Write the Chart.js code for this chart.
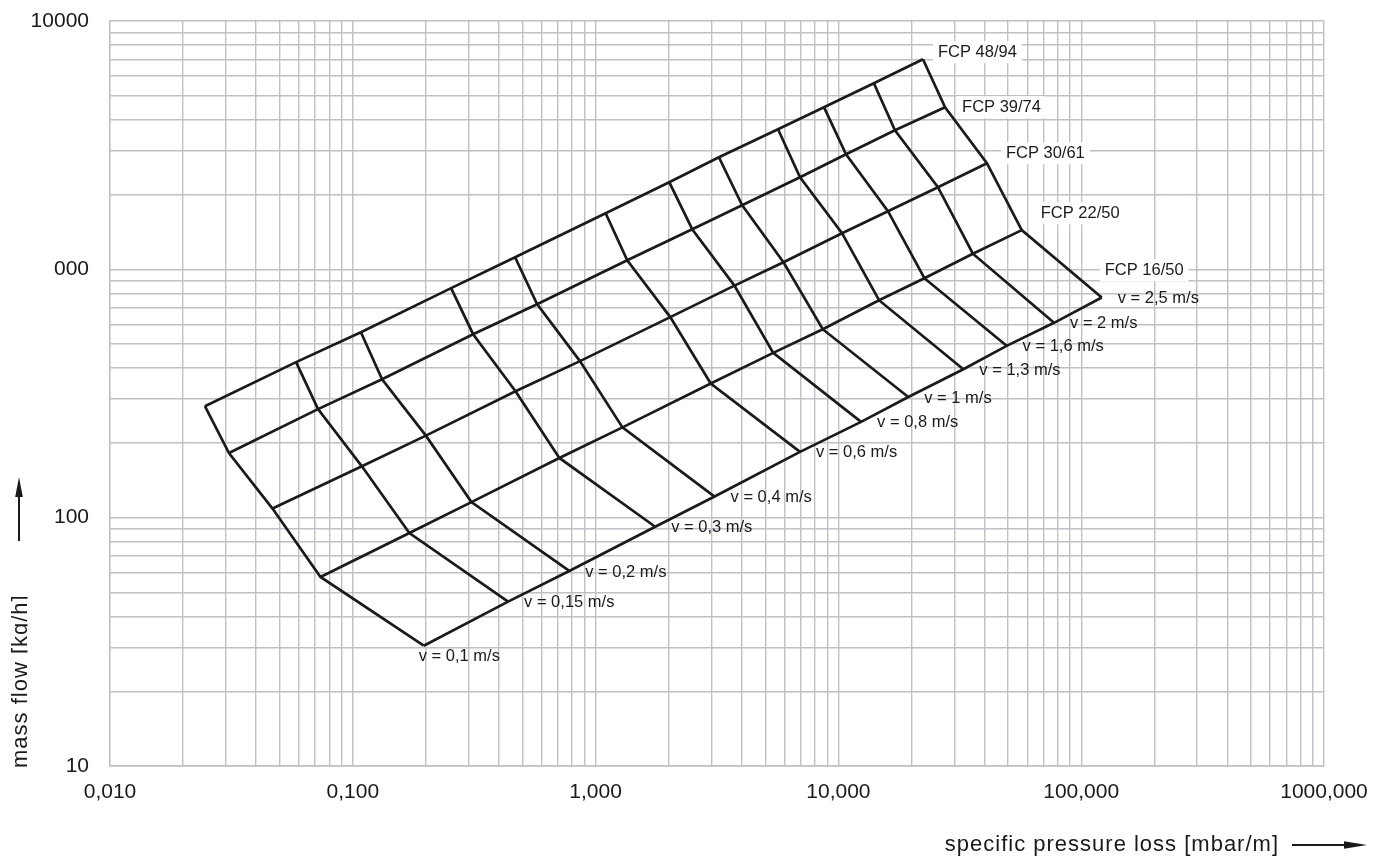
<!DOCTYPE html>
<html>
<head>
<meta charset="utf-8">
<title>FCP pressure loss diagram</title>
<script src="https://cdn.jsdelivr.net/npm/chart.js@4.4.1/dist/chart.umd.min.js"></script>
<style>
  html, body { margin: 0; padding: 0; background: #fff; }
  #wrap { width: 1387px; height: 859px; }
</style>
</head>
<body>
<div id="wrap"><canvas id="chart" width="1387" height="859"></canvas></div>
<script>
// velocities (one node per pipe size on each velocity line)
const velocities = [0.1, 0.15, 0.2, 0.3, 0.4, 0.6, 0.8, 1, 1.3, 1.6, 2, 2.5];
const velocityLabels = ['v = 0,1 m/s', 'v = 0,15 m/s', 'v = 0,2 m/s', 'v = 0,3 m/s', 'v = 0,4 m/s',
  'v = 0,6 m/s', 'v = 0,8 m/s', 'v = 1 m/s', 'v = 1,3 m/s', 'v = 1,6 m/s', 'v = 2 m/s', 'v = 2,5 m/s'];

const pipeNames = ['FCP 16/50', 'FCP 22/50', 'FCP 30/61', 'FCP 39/74', 'FCP 48/94'];

// specific pressure loss [mbar/m] and mass flow [kg/h] per pipe, one value per velocity
const lossFcp16 = [0.196, 0.436, 0.779, 1.76, 3.09, 6.95, 12.4, 19.4, 32.7, 49.3, 77.3, 121.5];
const flowFcp16 = [30.5, 45.9, 61.0, 91.9, 121.6, 184, 243, 306, 396, 492, 609, 770];

const lossFcp22 = [0.0736, 0.171, 0.308, 0.709, 1.29, 2.98, 5.39, 8.62, 14.7, 22.6, 35.8, 56.9];
const flowFcp22 = [57.7, 86.7, 115.5, 174, 231, 347, 461, 574, 751, 921, 1156, 1438];

const lossFcp30 = [0.0467, 0.109, 0.200, 0.468, 0.862, 2.03, 3.73, 5.94, 10.35, 16.0, 25.7, 40.9];
const flowFcp30 = [108.8, 161, 214, 323, 427, 642, 860, 1068, 1398, 1714, 2142, 2675];

const lossFcp39 = [0.0309, 0.0719, 0.132, 0.313, 0.574, 1.35, 2.50, 4.01, 6.95, 10.75, 17.1, 27.5];
const flowFcp39 = [182, 273.5, 361, 548, 724, 1088, 1451, 1813, 2349, 2907, 3633, 4497];

const lossFcp48 = [0.0246, 0.0584, 0.108, 0.254, 0.466, 1.10, 2.01, 3.22, 5.64, 8.72, 14.0, 22.3];
const flowFcp48 = [281, 423, 558, 840, 1119, 1683, 2243, 2828, 3666, 4497, 5615, 7015];

// axes
const xTickValues = [0.01, 0.1, 1, 10, 100, 1000];
const xTickLabels = ['0,010', '0,100', '1,000', '10,000', '100,000', '1000,000'];
const yTickValues = [10, 100, 1000, 10000];
const yTickLabels = ['10', '100', '000', '10000'];
const gridSteps = [1, 2, 3, 4, 5, 6, 7, 8, 9];

const FONT = '"Liberation Sans", Arial, Helvetica, sans-serif';
const INK = '#1a1a1a';
const GRID = '#bfc0c5';

const lossByPipe = [lossFcp16, lossFcp22, lossFcp30, lossFcp39, lossFcp48];
const flowByPipe = [flowFcp16, flowFcp22, flowFcp30, flowFcp39, flowFcp48];

function gridValues(values) {
  const out = [];
  for (let i = 0; i < values.length - 1; i++) {
    gridSteps.forEach(s => out.push(+(s * values[i]).toPrecision(6)));
  }
  out.push(values[values.length - 1]);
  return out;
}

function decadeLabel(values, labels) {
  return (value) => {
    const i = values.findIndex(v => Math.abs(v - value) / v < 1e-6);
    return i >= 0 ? labels[i] : '';
  };
}

const lineStyle = {
  borderColor: INK,
  borderWidth: 2.7,
  pointRadius: 0,
  pointHoverRadius: 0,
  fill: false,
  tension: 0,
  borderJoinStyle: 'miter',
};

const datasets = [];
// one line per pipe size
pipeNames.forEach((name, i) => {
  datasets.push({
    label: name,
    data: lossByPipe[i].map((x, j) => ({ x, y: flowByPipe[i][j] })),
    ...lineStyle,
  });
});
// one line per velocity, across the pipe sizes
velocities.forEach((v, j) => {
  datasets.push({
    label: velocityLabels[j],
    data: pipeNames.map((_, i) => ({ x: lossByPipe[i][j], y: flowByPipe[i][j] })),
    ...lineStyle,
  });
});

// label placement next to the end nodes (pixels)
const pipeLabelOffsets = [[3, -27], [19, -17], [19, -10], [17, 0], [15, -7]];

const labelsPlugin = {
  id: 'netLabels',
  afterDatasetsDraw(chart) {
    const { ctx, scales: { x, y } } = chart;
    ctx.save();
    ctx.font = `16.5px ${FONT}`;
    ctx.textBaseline = 'middle';
    ctx.textAlign = 'left';

    // pipe size names with white background
    pipeNames.forEach((name, i) => {
      const last = lossByPipe[i].length - 1;
      const px = x.getPixelForValue(lossByPipe[i][last]) + pipeLabelOffsets[i][0];
      const py = y.getPixelForValue(flowByPipe[i][last]) + pipeLabelOffsets[i][1];
      const w = ctx.measureText(name).width;
      ctx.fillStyle = '#fff';
      ctx.fillRect(px - 5, py - 11, w + 10, 22);
      ctx.fillStyle = INK;
      ctx.fillText(name, px, py);
    });

    // velocity labels along the smallest pipe
    velocityLabels.forEach((text, j) => {
      let px = x.getPixelForValue(lossFcp16[j]);
      let py = y.getPixelForValue(flowFcp16[j]);
      if (j === 0) { px -= 5; py += 11; } else { px += 16; py += 1; }
      ctx.fillStyle = INK;
      ctx.fillText(text, px, py);
    });
    ctx.restore();
  },
  afterDraw(chart) {
    const { ctx, chartArea } = chart;
    ctx.save();
    ctx.fillStyle = INK;
    ctx.strokeStyle = INK;

    // y title, cut at its baseline like the original
    ctx.save();
    ctx.beginPath();
    ctx.rect(0, 0, 27.5, chart.height);
    ctx.clip();
    ctx.translate(26.5, chartArea.bottom + 2);
    ctx.rotate(-Math.PI / 2);
    ctx.font = `22px ${FONT}`;
    ctx.letterSpacing = '1px';
    ctx.textAlign = 'left';
    ctx.textBaseline = 'alphabetic';
    ctx.fillText('mass flow [kg/h]', 0, 0);
    ctx.restore();

    // y arrow
    ctx.lineWidth = 2;
    ctx.beginPath();
    ctx.moveTo(19, 541);
    ctx.lineTo(19, 494);
    ctx.stroke();
    ctx.beginPath();
    ctx.moveTo(19, 477);
    ctx.lineTo(22.8, 497);
    ctx.lineTo(15.2, 497);
    ctx.closePath();
    ctx.fill();

    // x title
    ctx.font = `22px ${FONT}`;
    ctx.letterSpacing = '1px';
    ctx.textAlign = 'right';
    ctx.textBaseline = 'alphabetic';
    ctx.fillText('specific pressure loss [mbar/m]', 1279, 851);
    ctx.letterSpacing = '0px';

    // x arrow
    ctx.beginPath();
    ctx.moveTo(1292, 845);
    ctx.lineTo(1348, 845);
    ctx.stroke();
    ctx.beginPath();
    ctx.moveTo(1367, 845);
    ctx.lineTo(1344, 841.3);
    ctx.lineTo(1344, 848.7);
    ctx.closePath();
    ctx.fill();
    ctx.restore();
  },
};

const tickFont = { family: FONT, size: 21 };

new Chart(document.getElementById('chart'), {
  type: 'line',
  data: { datasets },
  options: {
    responsive: false,
    animation: false,
    devicePixelRatio: 1,
    layout: { padding: { top: 21, right: 63, left: 0, bottom: 0 } },
    plugins: {
      legend: { display: false },
      tooltip: { enabled: false },
    },
    events: [],
    scales: {
      x: {
        type: 'logarithmic',
        min: xTickValues[0],
        max: xTickValues[xTickValues.length - 1],
        afterBuildTicks: (scale) => {
          scale.ticks = gridValues(xTickValues).map(v => ({ value: v }));
        },
        afterFit: (scale) => {
          scale.height = 93;
          scale.paddingLeft = 0;
          scale.paddingRight = 0;
        },
        grid: { color: GRID, lineWidth: 1.4, drawTicks: false },
        border: { color: GRID, width: 1.4 },
        ticks: {
          autoSkip: false,
          maxRotation: 0,
          minRotation: 0,
          padding: 14,
          color: INK,
          font: tickFont,
          callback: decadeLabel(xTickValues, xTickLabels),
        },
      },
      y: {
        type: 'logarithmic',
        min: yTickValues[0],
        max: yTickValues[yTickValues.length - 1],
        afterBuildTicks: (scale) => {
          scale.ticks = gridValues(yTickValues).map(v => ({ value: v }));
        },
        afterFit: (scale) => {
          scale.width = 110;
          scale.paddingTop = 0;
          scale.paddingBottom = 0;
        },
        grid: { color: GRID, lineWidth: 1.4, drawTicks: false },
        border: { color: GRID, width: 1.4 },
        ticks: {
          autoSkip: false,
          padding: 21,
          color: INK,
          font: tickFont,
          callback: decadeLabel(yTickValues, yTickLabels),
        },
      },
    },
  },
  plugins: [labelsPlugin],
});
</script>
</body>
</html>
